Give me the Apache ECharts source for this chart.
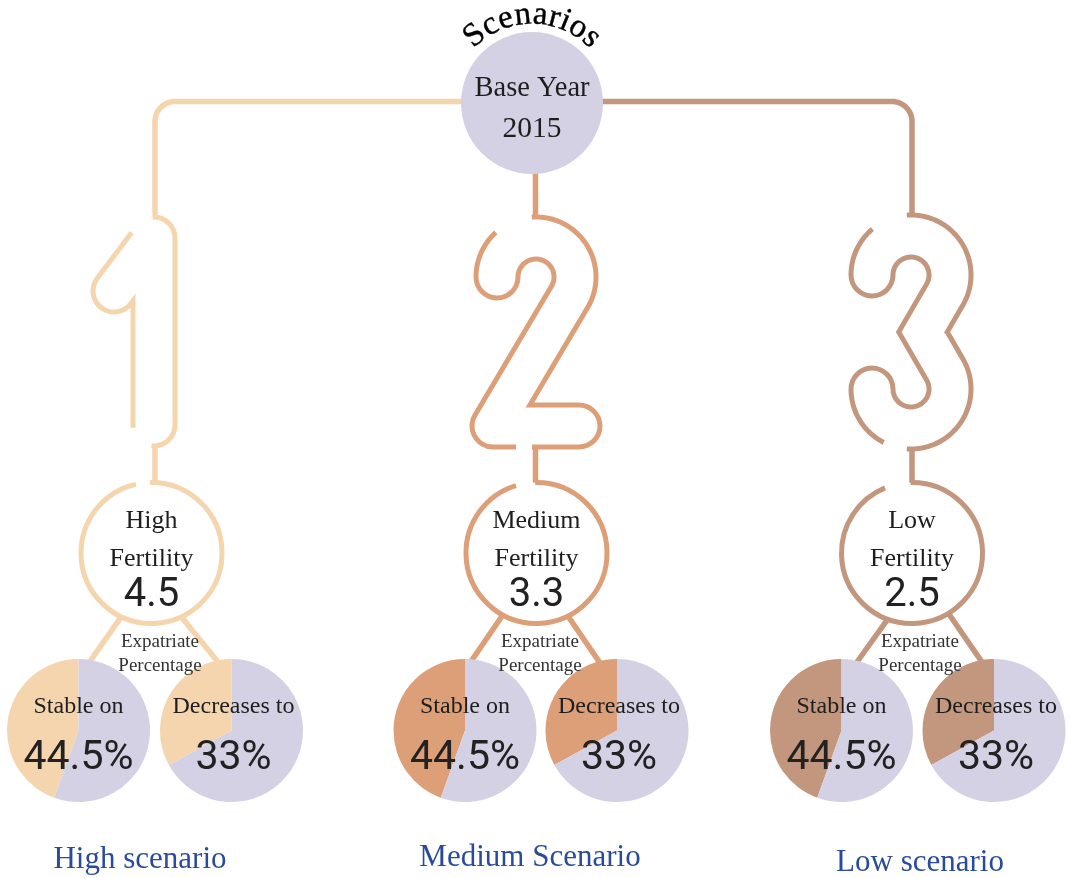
<!DOCTYPE html>
<html><head><meta charset="utf-8">
<script src="https://cdn.jsdelivr.net/npm/echarts@6/dist/echarts.min.js"></script>
<style>html,body{margin:0;padding:0;background:#fff}#c{width:1069px;height:878px}</style>
</head><body><div id="c"></div>
<script>
// ---- data ----
const scenarioNames = ['High scenario', 'Medium Scenario', 'Low scenario'];
const fertilityLevels = ['High', 'Medium', 'Low'];
const fertilityRates = [4.5, 3.3, 2.5];
const expatStable = [44.5, 44.5, 44.5];
const expatFinal = [33, 33, 33];
const pieCaptions = ['Stable on', 'Decreases to'];
const baseYear = 2015;
const headerText = 'Scenarios';

// ---- style / layout ----
const colors = ['#f5d5ad', '#dd9f78', '#c3977e'];
const lavender = '#d3d1e3';
const ink = '#1e1e1e';
const blue = '#2a4b9b';
const serif = 'Liberation Serif';
const sans = 'Roboto';
const colX = [151.5, 536.5, 912];
const circleY = 553, circleR = 70.5;
const pieX = [[78.5, 231.5], [465, 617], [841.5, 994]];
const pieY = 730.5, pieR = 71.5;
const gapDeg = [12.7, 16.9, 22.5];
const diag = [
  [[117.5, 622, 89.5, 662], [185.5, 622, 218, 662]],
  [[498, 622, 472, 660], [572, 622, 598, 660]],
  [[885, 623, 857, 662], [953, 620, 982, 662]]
];
const labelPos = [[140, 860], [530, 858], [920, 863]];
const expatX = [160, 540, 920];

const chart = echarts.init(document.getElementById('c'), null, {width: 1069, height: 878});

// polyline builder
function Pb() { this.p = []; }
Pb.prototype.to = function (x, y) { this.p.push([x, y]); return this; };
Pb.prototype.arc = function (cx, cy, r, a0, a1) { // degrees, screen coords
  const n = Math.max(2, Math.ceil(Math.abs(a1 - a0) / 2));
  for (let k = 0; k <= n; k++) {
    const a = (a0 + (a1 - a0) * k / n) * Math.PI / 180;
    this.p.push([cx + r * Math.cos(a), cy + r * Math.sin(a)]);
  }
  return this;
};
function tangentAng(cx, cy, r, px, py, sign) {
  const dx = px - cx, dy = py - cy, d = Math.hypot(dx, dy);
  return (Math.atan2(dy, dx) + sign * Math.acos(r / d)) * 180 / Math.PI;
}
const R = 39;
const TW = 47, LW = 5, RO = R + TW / 2 - LW / 2; // outline radius
const p1 = new Pb().to(154, 425).to(154, 238).to(114, 291).p;
const c2 = [536, 277], D2 = [493, 426];
const a2 = tangentAng(c2[0], c2[1], R, D2[0], D2[1], -1);
const p2 = new Pb().arc(c2[0], c2[1], R, 180, 360 + a2).to(D2[0], D2[1]).to(579, 426).p;
const c3a = [911, 275], c3b = [911, 389], V3 = [923, 332];
const a3a = tangentAng(c3a[0], c3a[1], R, V3[0], V3[1], -1);
const a3b = tangentAng(c3b[0], c3b[1], R, V3[0], V3[1], 1);
const p3 = new Pb().arc(c3a[0], c3a[1], R, 180, 360 + a3a).to(V3[0], V3[1]).arc(c3b[0], c3b[1], R, a3b, 180).p;
const digitPaths = [[p1, 'round'], [p2, 'round'], [p3, 'miter']];
// openings in the digit outlines (white masks)
const r1 = TW / 2 - LW / 2;
const masks = [
  new Pb().arc(154, 238, r1, -94, -143).to(154 + r1 * Math.cos(-143 * Math.PI / 180) - 0.602 * 9, 238 + r1 * Math.sin(-143 * Math.PI / 180) + 0.798 * 9).p,
  new Pb().arc(154, 425, r1, 97, 172).p,
  new Pb().arc(c2[0], c2[1], RO, 228, 266).p,
  new Pb().to(516, 426 + r1).to(532, 426 + r1).p,
  new Pb().arc(c3a[0], c3a[1], RO, 230, 266).p,
  new Pb().arc(c3b[0], c3b[1], RO, 94, 117).p
];

const g = [];
// top connectors
g.push({type: 'polyline', z: 1, shape: {points: new Pb().to(532, 101.5).arc(175, 121.5, 20, -90, -180).to(155, 218).p}, style: {fill: null, stroke: colors[0], lineWidth: 5.5}});
g.push({type: 'polyline', z: 1, shape: {points: new Pb().to(532, 101.5).arc(892, 121.5, 20, -90, 0).to(912, 216).p}, style: {fill: null, stroke: colors[2], lineWidth: 5.5}});
g.push({type: 'line', z: 1, shape: {x1: 535.5, y1: 150, x2: 535.5, y2: 218}, style: {stroke: colors[1], lineWidth: 5.5}});
// base year circle
g.push({type: 'circle', z: 3, shape: {cx: 532, cy: 103, r: 71}, style: {fill: lavender}});
g.push({type: 'text', z: 4, x: 532, y: 89, style: {text: 'Base Year', font: `28.5px "${serif}"`, fill: ink, align: 'center', verticalAlign: 'middle'}});
g.push({type: 'text', z: 4, x: 532, y: 129, style: {text: String(baseYear), font: `29.5px "${serif}"`, fill: ink, align: 'center', verticalAlign: 'middle'}});
// curved header
(function () {
  const font = `33px "${serif}"`;
  const cv = document.createElement('canvas').getContext('2d');
  cv.font = font;
  const ws = headerText.split('').map(ch => cv.measureText(ch).width);
  const centers = []; let acc = 0;
  ws.forEach(w => { centers.push(acc + w / 2); acc += w; });
  const s0 = centers[0], s1 = centers[centers.length - 1];
  const a0 = -40, a1 = 42, rr = 89, cx = 532, cy = 104;
  headerText.split('').forEach((ch, k) => {
    const a = (a0 + (a1 - a0) * (centers[k] - s0) / (s1 - s0)) * Math.PI / 180;
    g.push({type: 'text', z: 4, x: cx + rr * Math.sin(a), y: cy - rr * Math.cos(a), rotation: -a,
      style: {text: ch, font: font, fill: '#000', stroke: '#000', lineWidth: 0.4, align: 'center', verticalAlign: 'middle'}});
  });
})();

for (let i = 0; i < 3; i++) {
  const col = colors[i], cx = colX[i];
  // digit tube
  g.push({type: 'polyline', z: 2, shape: {points: digitPaths[i][0]}, style: {fill: null, stroke: col, lineWidth: TW, lineCap: 'round', lineJoin: digitPaths[i][1], miterLimit: 10}});
  g.push({type: 'polyline', z: 3, shape: {points: digitPaths[i][0]}, style: {fill: null, stroke: '#fff', lineWidth: TW - 2 * LW, lineCap: 'round', lineJoin: digitPaths[i][1], miterLimit: 10}});
  // connector digit -> circle
  const vx = [155, 535.5, 912][i];
  g.push({type: 'line', z: 1, shape: {x1: vx, y1: 440, x2: vx, y2: circleY - circleR + 2}, style: {stroke: col, lineWidth: 5.5}});
  // diagonals
  diag[i].forEach(dd => {
    const [x1, y1, x2, y2] = dd; const L = Math.hypot(x2 - x1, y2 - y1);
    const ux = (x2 - x1) / L, uy = (y2 - y1) / L;
    g.push({type: 'line', z: 1, shape: {x1: x1 - ux * 10, y1: y1 - uy * 10, x2: x2 + ux * 8, y2: y2 + uy * 8}, style: {stroke: col, lineWidth: 5.5}});
  });
  // fertility circle
  g.push({type: 'circle', z: 5, shape: {cx: cx, cy: circleY, r: circleR}, style: {fill: '#fff'}});
  const top = -Math.PI / 2, gp = gapDeg[i] * Math.PI / 180;
  g.push({type: 'arc', z: 6, shape: {cx: cx, cy: circleY, r: circleR, startAngle: top - 0.02, endAngle: top - gp + 2 * Math.PI, clockwise: true}, style: {fill: null, stroke: col, lineWidth: 5}});
  g.push({type: 'text', z: 7, x: cx, y: 521, style: {text: fertilityLevels[i], font: `26px "${serif}"`, fill: ink, align: 'center', verticalAlign: 'middle'}});
  g.push({type: 'text', z: 7, x: cx, y: 559, style: {text: 'Fertility', font: `26px "${serif}"`, fill: ink, align: 'center', verticalAlign: 'middle'}});
  g.push({type: 'text', z: 7, x: cx, y: 596, style: {text: fertilityRates[i].toFixed(1), font: `40px "${sans}"`, fill: '#222', align: 'center', verticalAlign: 'middle'}});
  g.push({type: 'text', z: 7, x: expatX[i], y: 642, style: {text: 'Expatriate', font: `19px "${serif}"`, fill: '#333', align: 'center', verticalAlign: 'middle'}});
  g.push({type: 'text', z: 7, x: expatX[i], y: 666, style: {text: 'Percentage', font: `19px "${serif}"`, fill: '#333', align: 'center', verticalAlign: 'middle'}});
  // pie captions
  [expatStable[i], expatFinal[i]].forEach((v, j) => {
    const px = pieX[i][j] + (j === 1 ? 2 : 0);
    g.push({type: 'text', z: 20, x: px, y: 707, style: {text: pieCaptions[j], font: `24px "${serif}"`, fill: ink, align: 'center', verticalAlign: 'middle'}});
    g.push({type: 'text', z: 20, x: px, y: 759, style: {text: v + '%', font: `41px "${sans}"`, fill: '#222', align: 'center', verticalAlign: 'middle'}});
  });
  // scenario label
  g.push({type: 'text', z: 7, x: labelPos[i][0], y: labelPos[i][1], style: {text: scenarioNames[i], font: `31px "${serif}"`, fill: blue, align: 'center', verticalAlign: 'middle'}});
}
masks.forEach(m => g.push({type: 'polyline', z: 4, shape: {points: m}, style: {fill: null, stroke: '#fff', lineWidth: 8}}));

const series = [];
for (let i = 0; i < 3; i++) {
  [expatStable[i], expatFinal[i]].forEach((v, j) => {
    series.push({
      type: 'pie', z: 2, center: [pieX[i][j], pieY], radius: pieR,
      startAngle: 90, clockwise: false, silent: true, animation: false,
      label: {show: false}, labelLine: {show: false}, emphasis: {disabled: true},
      itemStyle: {borderWidth: 0},
      data: [
        {value: v, name: 'Expatriates', itemStyle: {color: colors[i]}},
        {value: +(100 - v).toFixed(1), name: 'Nationals', itemStyle: {color: lavender}}
      ]
    });
  });
}

chart.setOption({backgroundColor: '#fff', animation: false, series: series, graphic: {elements: g}});
</script></body></html>
